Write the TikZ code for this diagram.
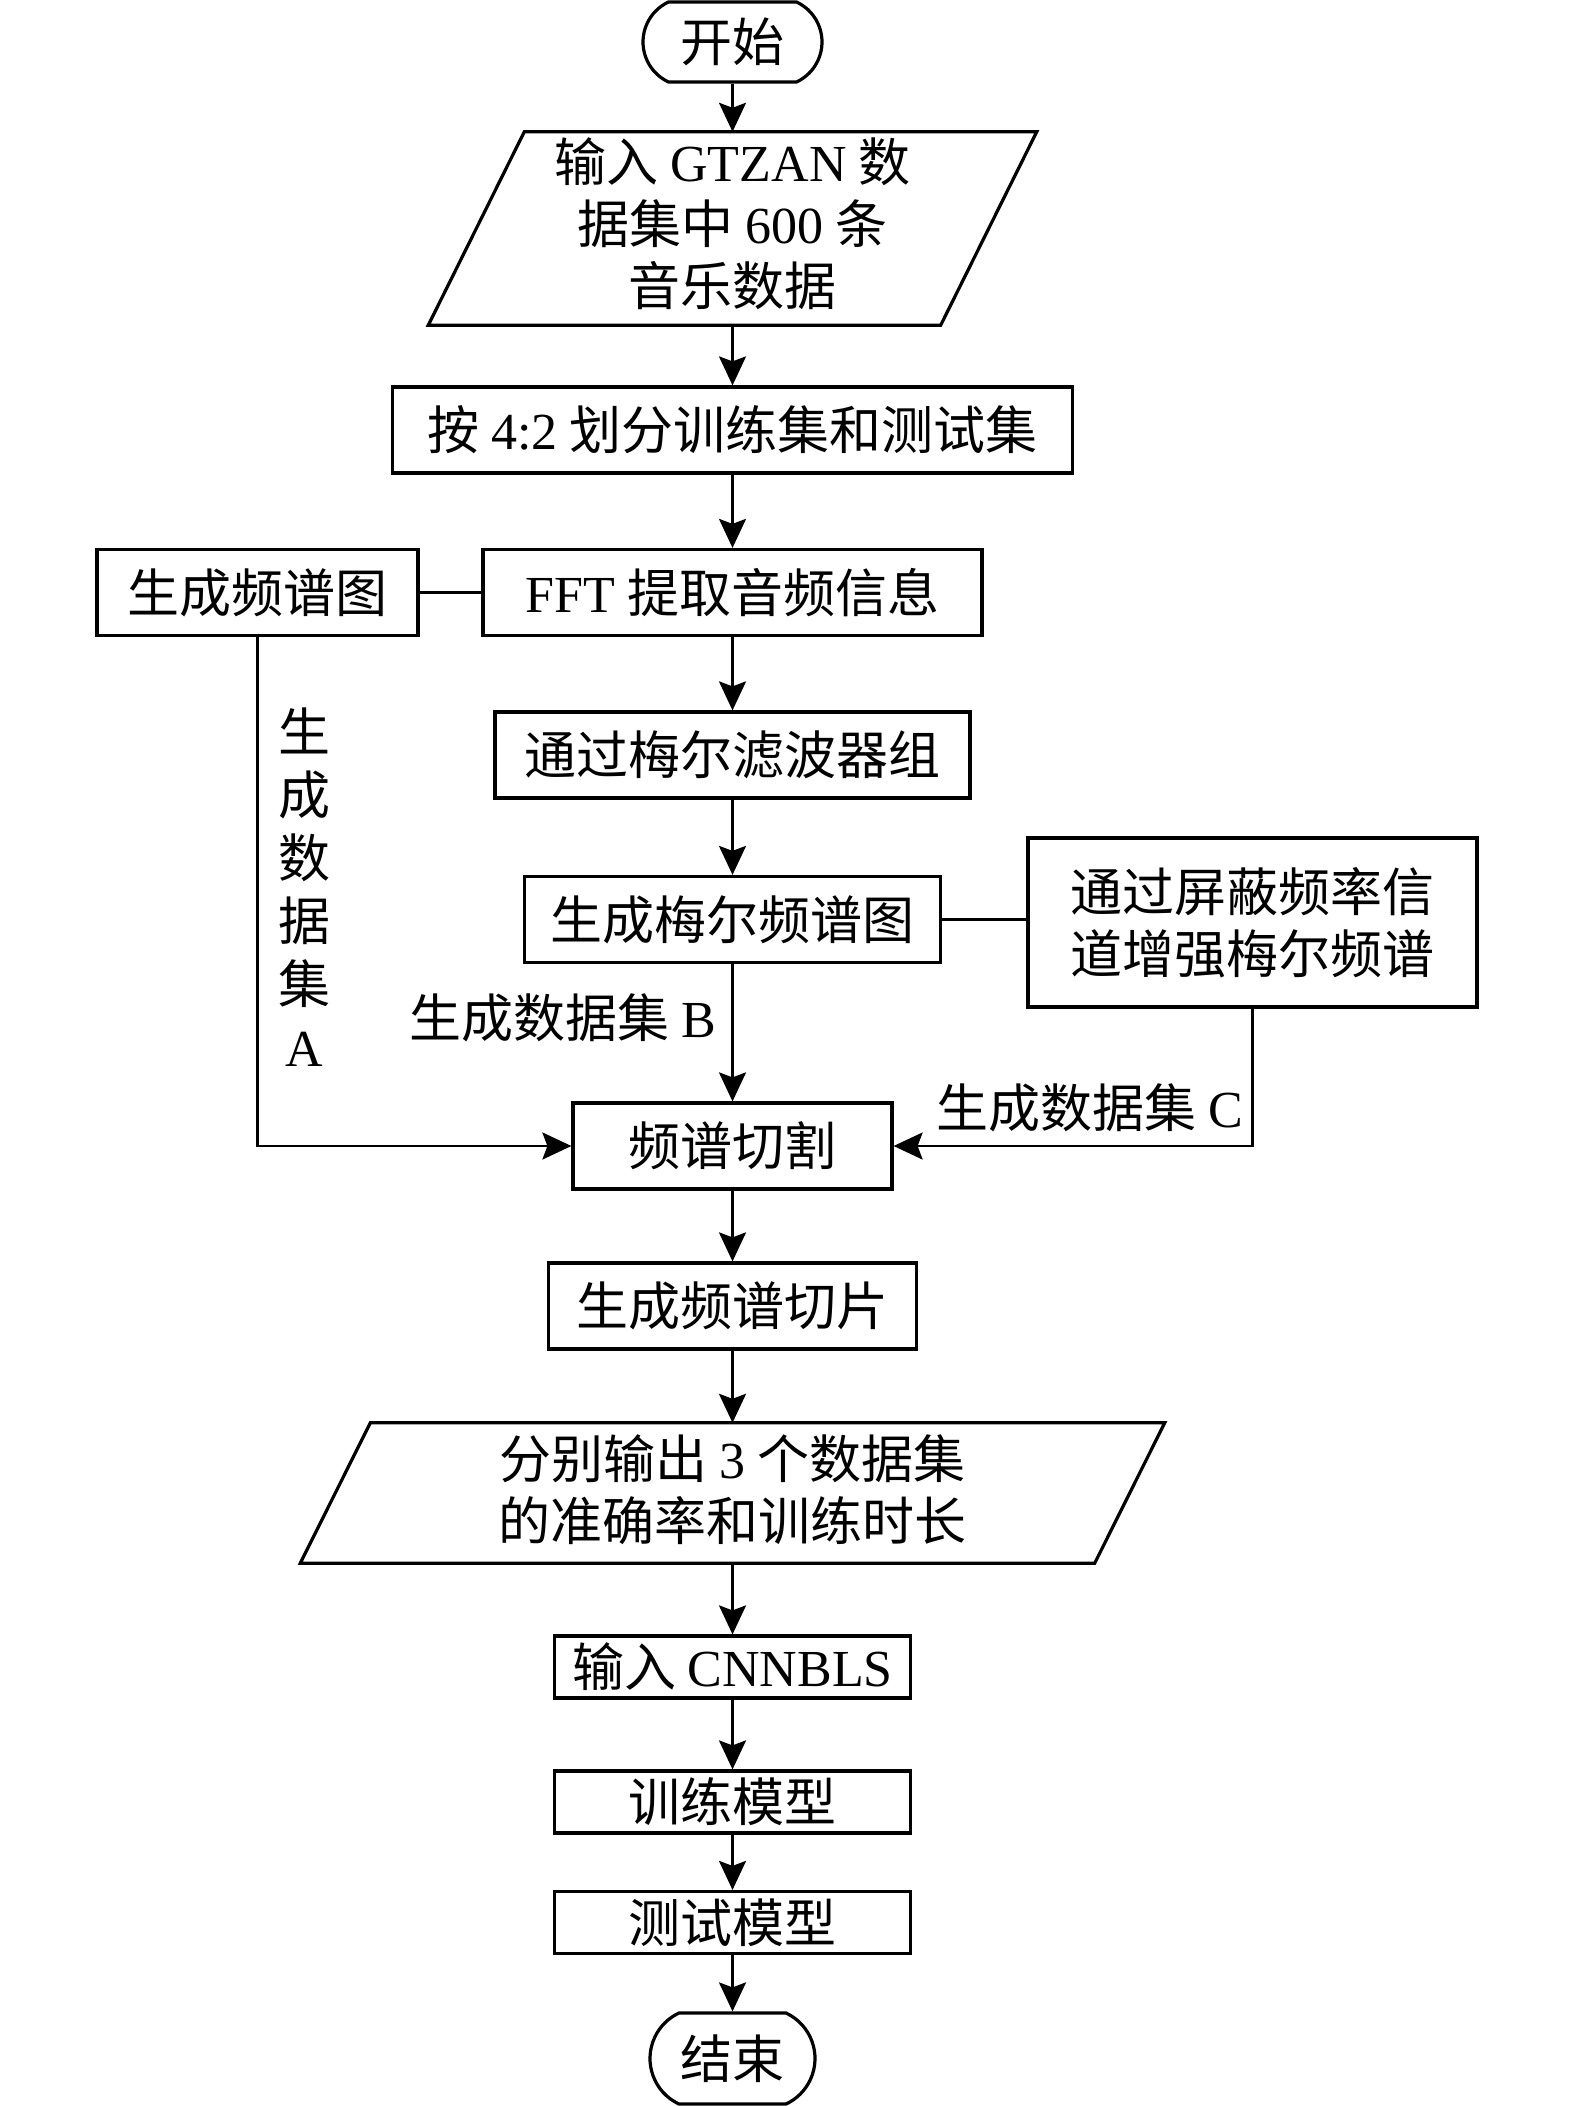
\documentclass[tikz,border=0pt]{standalone}
\usepackage{fontspec}
\setmainfont{Noto Sans CJK SC}
\newfontfamily\lat{Liberation Serif}
\usetikzlibrary{arrows.meta,shapes.misc,calc}
\begin{document}
\begin{tikzpicture}[x=1pt,y=-1pt,
  every node/.style={font=\fontsize{52}{62}\selectfont, inner sep=0pt},
  box/.style={draw, line width=3.2pt, minimum height=86pt},
  term/.style={draw, line width=3.2pt, rounded rectangle, rounded rectangle arc length=130},
  ghost/.style={align=center},
  outline/.style={line width=3.2pt, line join=miter},
  arr/.style={-{Stealth[length=29pt,width=27pt,inset=5pt]}, line width=2.6pt},
  conn/.style={line width=2.6pt}]
\useasboundingbox (0,0) rectangle (1575,2106);
\fill[white] (0,0) rectangle (1575,2106);

\node[term, minimum width=179pt, minimum height=80pt] (start) at (732.5,42) {开始};
\node[ghost, minimum width=512pt, minimum height=193pt] (in) at (732.5,228.5) {};
\draw[outline] ([xshift=48pt]in.north west) -- ([xshift=48pt]in.north east) -- ([xshift=-48pt]in.south east) -- ([xshift=-48pt]in.south west) -- cycle;
\node[align=center] (intxt) at (732.5,224) {输入 {\lat GTZAN} 数\\据集中 {\lat 600} 条\\音乐数据};
\node[box, minimum width=680pt] (split) at (732.5,430) {按 {\lat 4:2} 划分训练集和测试集};
\node[box, minimum width=321pt] (spec) at (257.5,592.5) {生成频谱图};
\node[box, minimum width=499pt] (fft) at (732.5,592.5) {{\lat FFT} 提取音频信息};
\node[box, minimum width=475pt] (mel) at (732.5,755) {通过梅尔滤波器组};
\node[box, minimum width=416pt] (melspec) at (732.5,919.5) {生成梅尔频谱图};
\node[box, align=center, minimum width=449pt, minimum height=169pt] (mask) at (1252.5,922.5) {通过屏蔽频率信\\道增强梅尔频谱};
\node[box, minimum width=319pt] (cut) at (732.5,1146) {频谱切割};
\node[box, minimum width=368pt] (slice) at (732.5,1306) {生成频谱切片};
\node[ghost, minimum width=794pt, minimum height=140pt] (out) at (732.5,1493) {};
\draw[outline] ([xshift=35pt]out.north west) -- ([xshift=35pt]out.north east) -- ([xshift=-35pt]out.south east) -- ([xshift=-35pt]out.south west) -- cycle;
\node[align=center] (outtxt) at (732.5,1490) {分别输出 {\lat 3} 个数据集\\的准确率和训练时长};
\node[box, minimum width=356pt, minimum height=62pt] (cnn) at (732.5,1667) {输入 {\lat CNNBLS}};
\node[box, minimum width=356pt, minimum height=62pt] (train) at (732.5,1802) {训练模型};
\node[box, minimum width=356pt, minimum height=62pt] (test) at (732.5,1922.5) {测试模型};
\node[term, minimum width=165pt, minimum height=91pt] (end) at (732.5,2058.5) {结束};

\node[align=center, font=\fontsize{52}{63}\selectfont] (la) at (304,887) {生\\成\\数\\据\\集\\{\lat A}};
\node[anchor=east] (lb) at (716,1018) {生成数据集 {\lat B}};
\node[anchor=east] (lc) at (1243,1108) {生成数据集 {\lat C}};

\draw[arr] (start.south) -- (in.north);
\draw[arr] (in.south) -- (split.north);
\draw[arr] (split.south) -- (fft.north);
\draw[conn] (spec.east) -- (fft.west);
\draw[arr] (fft.south) -- (mel.north);
\draw[arr] (mel.south) -- (melspec.north);
\draw[conn] (melspec.east) -- (melspec.east -| mask.west);
\draw[arr] (melspec.south) -- (cut.north);
\draw[arr] (spec.south) |- (cut.west);
\draw[arr] (mask.south) |- (cut.east);
\draw[arr] (cut.south) -- (slice.north);
\draw[arr] (slice.south) -- (out.north);
\draw[arr] (out.south) -- (cnn.north);
\draw[arr] (cnn.south) -- (train.north);
\draw[arr] (train.south) -- (test.north);
\draw[arr] (test.south) -- (end.north);
\end{tikzpicture}
\end{document}
